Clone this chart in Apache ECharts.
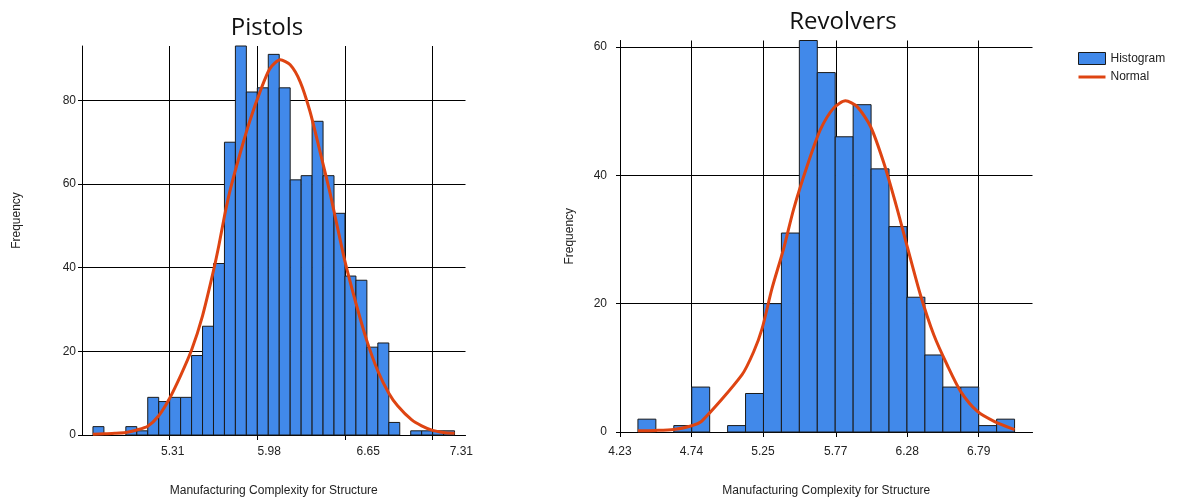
<!DOCTYPE html>
<html>
<head>
<meta charset="utf-8">
<script src="https://cdn.jsdelivr.net/npm/echarts@6/dist/echarts.min.js"></script>
<style>
html,body{margin:0;padding:0;background:#fff;}
#chart{width:1182px;height:502px;}
</style>
</head>
<body>
<div id="chart"></div>
<script>
// ---------- DATA ----------
// Pistols histogram: bins of equal width starting at pistolBinStart
const pistolBinStart = 4.7255;
const pistolBinWidth = 0.0835;
const pistolCounts = [2,0,0,2,1,9,8,9,9,19,26,41,70,93,82,83,91,83,61,62,75,62,53,38,37,21,22,3,0,1,1,1,1];
const pistolCurveX = [4.7255,4.809,4.8925,4.976,5.0595,5.143,5.2265,5.31,5.3935,5.477,5.5605,5.644,5.686,5.7275,5.769,5.844,5.920,5.999,6.074,6.153,6.2285,6.304,6.379,6.454,6.529,6.5625,6.646,6.7295,6.813,6.8965,6.98,7.047,7.155,7.2305,7.314,7.3975,7.481];
const pistolCurveY = [0.2,0.3,0.4,0.6,1.2,2.1,4.6,8.8,14.2,20.3,28.5,39.3,45.5,52.3,58.3,67.0,75.0,82.1,87.6,89.7,88.5,84.5,77.4,68.0,58.3,53.5,41.5,31.5,22.5,15.3,10.0,7.0,3.6,2.2,1.1,0.6,0.4];
const pistolTickLabels = ['5.31','5.98','6.65','7.31'];
const pistolYTicks = [0,20,40,60,80];

// Revolvers histogram
const revolverBinStart = 4.358;
const revolverBinWidth = 0.128;
const revolverCounts = [2,0,1,7,0,1,6,20,31,61,56,46,51,41,32,21,12,7,7,1,2];
const revolverCurveX = [4.358,4.486,4.614,4.729,4.814,5.100,5.184,5.244,5.314,5.397,5.469,5.565,5.660,5.756,5.839,5.922,6.018,6.113,6.209,6.281,6.375,6.470,6.566,6.662,6.781,6.900,7.046];
const revolverCurveY = [0.2,0.25,0.4,0.9,1.7,8.9,12.5,16.1,22.3,28.5,34.7,41.4,47.1,50.5,51.6,50.7,47.6,41.9,34.7,28.8,21.3,15.1,10.4,6.3,3.2,1.66,0.36];
const revolverTickLabels = ['4.23','4.74','5.25','5.77','6.28','6.79'];
const revolverYTicks = [0,20,40,60];

const titles = ['Pistols','Revolvers'];
const xName = 'Manufacturing Complexity for Structure';
const yName = 'Frequency';

// ---------- BUILD ----------
function bins(start, w, counts){
  return counts.map((c,i)=>[start + i*w, start + (i+1)*w, c]);
}
function pts(xs, ys){ return xs.map((x,i)=>[x, ys[i]]); }

const BAR = '#4189ea', BORDER = '#1a1a1a', CURVE = '#de4412';
const FONT = "'Liberation Sans', Arial, sans-serif";
const TXT = '#222';

function renderBin(params, api){
  const x0 = api.value(0), x1 = api.value(1), c = api.value(2);
  if (!c) return null;
  const p0 = api.coord([x0, c]);
  const p1 = api.coord([x1, 0]);
  return {
    type:'rect',
    shape:{x:p0[0], y:p0[1], width:p1[0]-p0[0], height:p1[1]-p0[1]},
    style:{fill:BAR, stroke:BORDER, lineWidth:1}
  };
}

const pistolTickVals = pistolTickLabels.map(Number);
const revolverTickVals = revolverTickLabels.map(Number);
// label anchor positions (left chart labels sit a little to the right of their gridlines)
const pistolLabelPos = [5.333, 6.069, 6.823, 7.533];

function nearestLabel(v, pos, labels){
  let best = 0, bd = Infinity;
  pos.forEach((p,i)=>{ const d=Math.abs(p-v); if(d<bd){bd=d;best=i;} });
  return labels[best];
}

const chart = echarts.init(document.getElementById('chart'), null, {renderer:'canvas'});
const axisTextStyle = {color:TXT, fontSize:12, fontFamily:FONT};

chart.setOption({
  animation:false,
  backgroundColor:'#fff',
  title:[
    {text:titles[0], left:262, top:11, textAlign:'center', textStyle:{fontFamily:"'Open Sans', sans-serif", fontSize:24, fontWeight:'normal', color:'#111'}},
    {text:titles[1], left:838, top:5, textAlign:'center', textStyle:{fontFamily:"'Open Sans', sans-serif", fontSize:24, fontWeight:'normal', color:'#111'}}
  ],
  legend:{
    orient:'vertical', left:1072, top:47, itemWidth:27, itemHeight:12, itemGap:6,
    textStyle:{color:TXT, fontSize:12, fontFamily:FONT},
    data:[
      {name:'Histogram', icon:'rect', itemStyle:{color:BAR, borderColor:BORDER, borderWidth:1}},
      {name:'Normal', itemStyle:{color:'rgba(0,0,0,0)', borderColor:'rgba(0,0,0,0)', borderWidth:0}, lineStyle:{color:CURVE, width:3}}
    ]
  },
  grid:[
    {left:82, top:46, width:383.5, height:390.5},
    {left:620, top:40.5, width:412.5, height:393.5}
  ],
  xAxis:[
    {type:'value', gridIndex:0, min:4.642, max:7.5645,
     axisLine:{show:true, onZero:false, lineStyle:{color:'#000', width:1}},
     axisTick:{show:true, length:5, customValues:pistolTickVals, lineStyle:{color:'#000'}},
     axisLabel:{customValues:pistolLabelPos, margin:11, hideOverlap:false, formatter:(v)=>nearestLabel(v, pistolLabelPos, pistolTickLabels), ...axisTextStyle},
     splitLine:{show:true, lineStyle:{color:'#000', width:1}},
     name:xName, nameLocation:'middle', nameGap:50, nameTextStyle:{...axisTextStyle}},
    {type:'value', gridIndex:1, min:4.23, max:7.174,
     axisLine:{show:true, onZero:false, lineStyle:{color:'#000', width:1}},
     axisTick:{show:true, length:5, customValues:revolverTickVals, lineStyle:{color:'#000'}},
     axisLabel:{customValues:revolverTickVals, margin:14, hideOverlap:false, formatter:(v)=>nearestLabel(v, revolverTickVals, revolverTickLabels), ...axisTextStyle},
     splitLine:{show:true, lineStyle:{color:'#000', width:1}},
     name:xName, nameLocation:'middle', nameGap:53, nameTextStyle:{...axisTextStyle}}
  ],
  yAxis:[
    {type:'value', gridIndex:0, min:0, max:93,
     axisLine:{show:true, lineStyle:{color:'#000', width:1}},
     axisTick:{show:true, length:4, customValues:pistolYTicks, lineStyle:{color:'#000'}},
     axisLabel:{customValues:pistolYTicks, margin:6, ...axisTextStyle},
     splitLine:{show:true, lineStyle:{color:'#000', width:1}},
     name:yName, nameLocation:'middle', nameGap:59, nameTextStyle:{...axisTextStyle, padding:[0,0,0,40]}},
    {type:'value', gridIndex:1, min:0, max:61,
     axisLine:{show:true, lineStyle:{color:'#000', width:1}},
     axisTick:{show:true, length:4, customValues:revolverYTicks, lineStyle:{color:'#000'}},
     axisLabel:{customValues:revolverYTicks, margin:13, ...axisTextStyle},
     splitLine:{show:true, lineStyle:{color:'#000', width:1}},
     name:yName, nameLocation:'middle', nameGap:44, nameTextStyle:{...axisTextStyle}}
  ],
  series:[
    {name:'Histogram', type:'custom', xAxisIndex:0, yAxisIndex:0, z:2, renderItem:renderBin,
     itemStyle:{color:BAR, borderColor:BORDER, borderWidth:1},
     encode:{x:[0,1], y:2}, data:bins(pistolBinStart, pistolBinWidth, pistolCounts)},
    {name:'Normal', type:'line', xAxisIndex:0, yAxisIndex:0, z:3, symbol:'none', smooth:0.25,
     lineStyle:{color:CURVE, width:3}, itemStyle:{color:CURVE},
     data:pts(pistolCurveX, pistolCurveY)},
    {name:'Histogram', type:'custom', xAxisIndex:1, yAxisIndex:1, z:2, renderItem:renderBin,
     itemStyle:{color:BAR, borderColor:BORDER, borderWidth:1},
     encode:{x:[0,1], y:2}, data:bins(revolverBinStart, revolverBinWidth, revolverCounts)},
    {name:'Normal', type:'line', xAxisIndex:1, yAxisIndex:1, z:3, symbol:'none', smooth:0.25,
     lineStyle:{color:CURVE, width:3}, itemStyle:{color:CURVE},
     data:pts(revolverCurveX, revolverCurveY)}
  ]
});
</script>
</body>
</html>
